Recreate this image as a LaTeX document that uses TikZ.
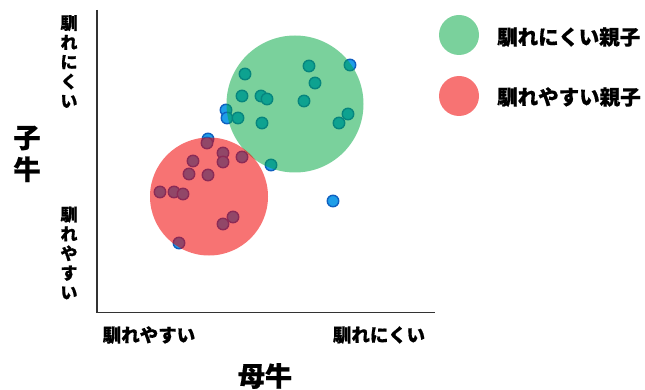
\documentclass[tikz,border=0pt]{standalone}
\usepackage{fontspec}
\setmainfont{Noto Sans CJK JP}[BoldFeatures={FakeBold=0.6}]
\begin{document}
\begin{tikzpicture}[x=1pt,y=-1pt,
  dot/.style={circle,inner sep=0pt,minimum size=11.5pt,fill={rgb,255:red,30;green,158;blue,232},draw={rgb,255:red,16;green,96;blue,192},line width=1.4pt},
  grn/.style={fill={rgb,255:red,0;green,167;blue,65},fill opacity=0.52},
  rd/.style={fill={rgb,255:red,241;green,0;blue,0},fill opacity=0.55},
  lab/.style={font=\bfseries\fontsize{17}{19.5}\selectfont,inner sep=0pt,align=center,text=black},
  big/.style={font=\bfseries\fontsize{27}{32}\selectfont,inner sep=0pt,align=center,text=black},
  leg/.style={font=\bfseries\fontsize{20.5}{22}\selectfont,inner sep=0pt,anchor=west,text=black}]
\useasboundingbox (0,0) rectangle (645,390);
% axes
\coordinate (top) at (97,10);
\coordinate (org) at (97,312.5);
\coordinate (right) at (435,312.5);
\draw[line width=1.3pt,color=black!80,line join=miter] (top) -- (org) -- (right);
% dots
\foreach \n/\x/\y in {a/245/74,b/309/66,c/350/65,d/315/83,e/242/96,f/261/96,g/267/99,h/304/101,i/226/110,j/227/118,k/238/118,l/262/123,m/348/114,n/339/123,o/208/139,p/207/143,q/223/153,r/223/162,s/242/157,t/271/165,u/193/161,v/189/174,w/208/175,x/160/192,y/174/192,z/183/194,aa/233/217,ab/223/224,ac/179/243,ad/333/201}
  \node[dot] (d\n) at (\x,\y) {};
% clusters
\node[circle,grn,minimum size=137pt,inner sep=0pt] (gc) at (295,104) {};
\node[circle,rd,minimum size=118pt,inner sep=0pt] (rc) at (209,196.5) {};
% axis labels
\node[lab] (yhi) at (69,61.5) {馴\\れ\\に\\く\\い};
\node[lab] (ylo) at (69,253) {馴\\れ\\や\\す\\い};
\node[big] (ylab) at (27,154) {子\\牛};
\node[lab,font=\bfseries\fontsize{18.5}{20}\selectfont] (xlo) at (149,335) {馴れやすい};
\node[lab,font=\bfseries\fontsize{18.5}{20}\selectfont] (xhi) at (379,335) {馴れにくい};
\node[big] (xlab) at (265,376) {母牛};
% legend
\node[circle,grn,minimum size=40pt,inner sep=0pt] (lg) at (459,35) {};
\node[circle,rd,minimum size=40pt,inner sep=0pt] (lr) at (459,96) {};
\node[leg] (tg) at (497,37) {馴れにくい親子};
\node[leg] (tr) at (497,97) {馴れやすい親子};
\end{tikzpicture}
\end{document}
